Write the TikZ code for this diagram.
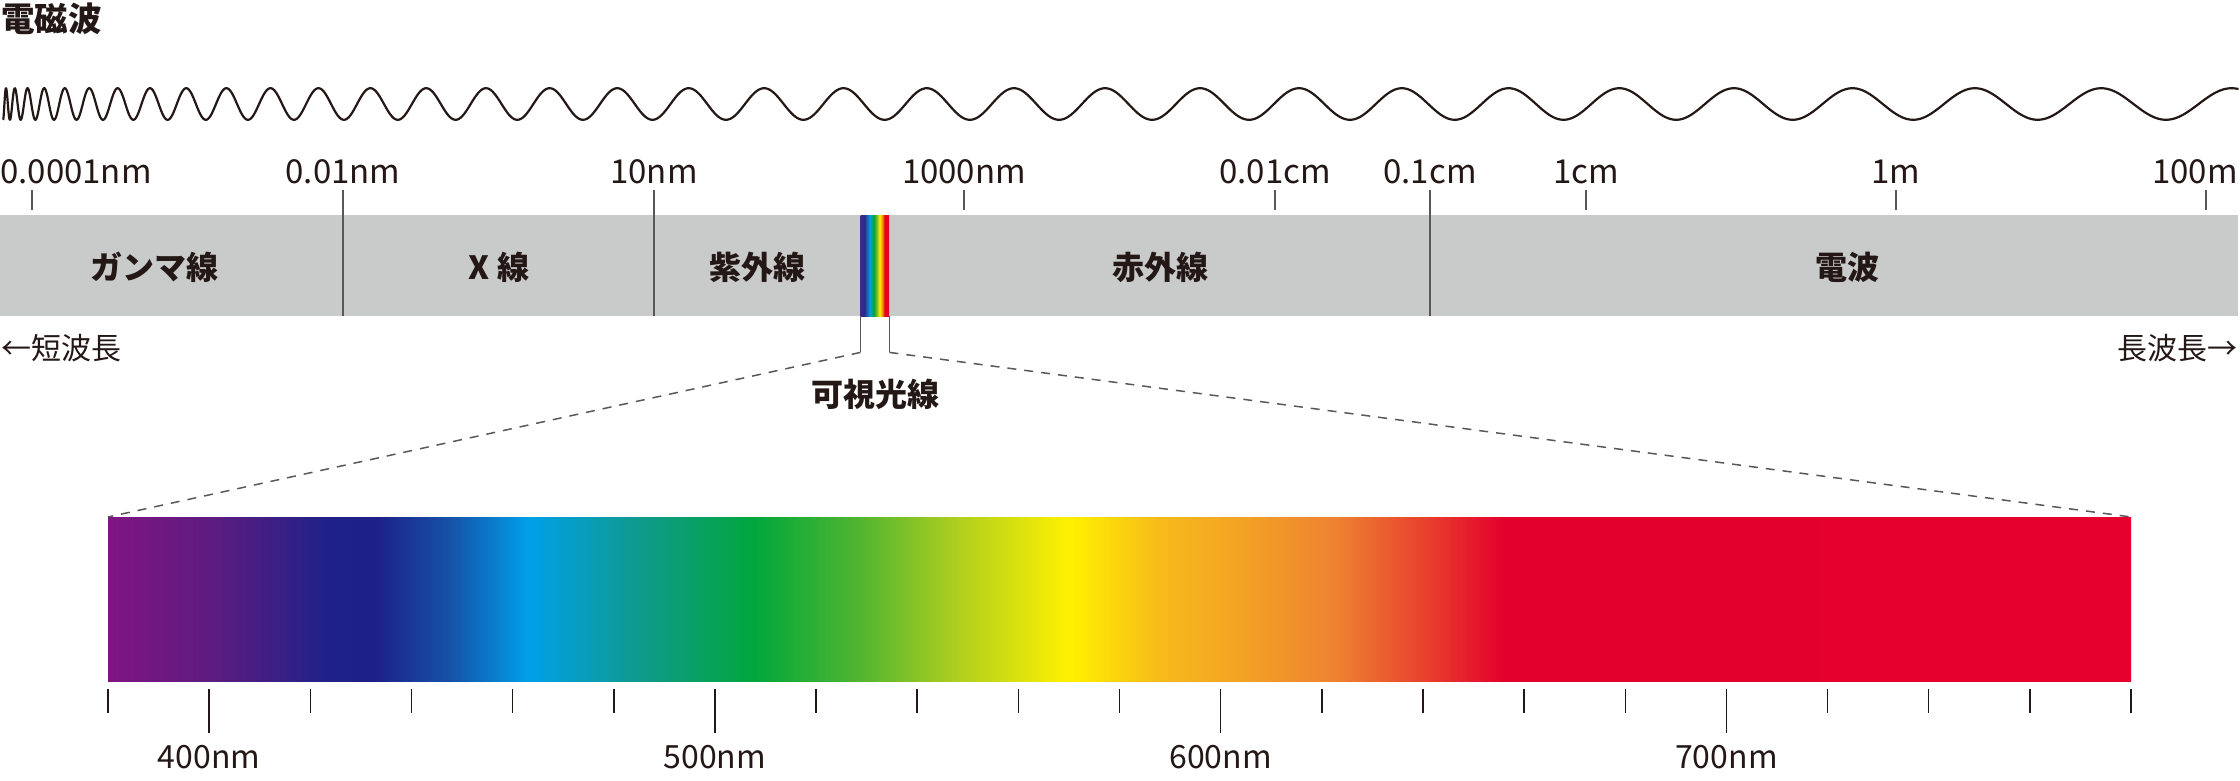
\documentclass[tikz,border=0pt]{standalone}
\usepackage{fontspec}
\setmainfont{Noto Sans CJK JP}
\definecolor{ink}{HTML}{231815}
\definecolor{barg}{HTML}{C9CACA}
\definecolor{lineg}{HTML}{595757}
% spectrum colours
\definecolor{sA}{HTML}{801482}
\definecolor{sB}{HTML}{5C1C80}
\definecolor{sC}{HTML}{1F2188}
\definecolor{sD}{HTML}{1D2088}
\definecolor{sE}{HTML}{1552A8}
\definecolor{sF}{HTML}{00A0E9}
\definecolor{sG}{HTML}{0F9A8C}
\definecolor{sH}{HTML}{00A73C}
\definecolor{sI}{HTML}{52B530}
\definecolor{sJ}{HTML}{B0CF1F}
\definecolor{sK}{HTML}{FFF100}
\definecolor{sL}{HTML}{F7BA1A}
\definecolor{sM}{HTML}{F3A324}
\definecolor{sN}{HTML}{EE8232}
\definecolor{sO}{HTML}{E9432D}
\definecolor{sP}{HTML}{E4002C}
\definecolor{sQ}{HTML}{E5002D}
% visible strip colours
\definecolor{vA}{HTML}{3E2A88}
\definecolor{vB}{HTML}{2A2A88}
\definecolor{vC}{HTML}{1E5FB0}
\definecolor{vD}{HTML}{00A0E0}
\definecolor{vE}{HTML}{00A040}
\definecolor{vF}{HTML}{8CC41E}
\definecolor{vG}{HTML}{FFF000}
\definecolor{vH}{HTML}{F39800}
\definecolor{vI}{HTML}{E60020}
\pgfdeclarehorizontalshading{spectrum}{100bp}{color(0bp)=(sA); color(25bp)=(sA);
 color(27.64bp)=(sB); color(30.4bp)=(sC); color(31.6bp)=(sD); color(33.45bp)=(sE);
 color(35.41bp)=(sF); color(38.15bp)=(sG); color(40.94bp)=(sH); color(43.59bp)=(sI);
 color(46.0bp)=(sJ); color(48.75bp)=(sK); color(51.0bp)=(sL); color(52.98bp)=(sM);
 color(55.35bp)=(sN); color(57.45bp)=(sO); color(59.5bp)=(sP); color(75bp)=(sQ);
 color(100bp)=(sQ)}
\pgfdeclarehorizontalshading{visstrip}{100bp}{color(0bp)=(vA); color(25bp)=(vA);
 color(31bp)=(vB); color(36bp)=(vC); color(41bp)=(vD); color(47.5bp)=(vE);
 color(54bp)=(vF); color(58bp)=(vG); color(62.5bp)=(vH); color(67bp)=(vI);
 color(75bp)=(vI); color(100bp)=(vI)}
\tikzset{
  boldlab/.style={font=\fontsize{32}{38}\selectfont\bfseries, text=ink, inner sep=0pt, anchor=base},
  titlelab/.style={font=\fontsize{33.5}{40}\selectfont\bfseries, text=ink, inner sep=0pt, anchor=base west},
  sidelab/.style={font=\fontsize{30}{36}\selectfont, text=ink, inner sep=0pt},
  toplab/.style={font=\fontsize{33}{40}\selectfont, text=ink, inner sep=0pt, anchor=base},
  speclab/.style={font=\fontsize{32}{38}\selectfont, text=ink, inner sep=0pt, anchor=base},
  tickline/.style={draw=lineg, line width=1.5pt},
  spectick/.style={draw=ink, line width=1.5pt},
  zoomline/.style={draw=lineg, line width=1.5pt, dash pattern=on 9pt off 8pt},
  wave/.style={draw=ink, line width=2.2pt, line join=round},
}
\begin{document}
\begin{tikzpicture}[x=1pt,y=-1pt]
\useasboundingbox (0,0) rectangle (2240,780);
% title
\node[titlelab] (title) at (1,31) {電磁波};
% wave
\draw[wave] plot[domain=1.75:47.33, samples=1500, variable=\t] ({\t*\t}, {104+15.8*sin(257.2*\t)});
% grey band
\node[fill=barg, draw=none, inner sep=0pt, minimum width=2238pt, minimum height=101pt, anchor=north west] (band) at (0,215) {};
% visible strip
\node[shading=visstrip, draw=none, inner sep=0pt, minimum width=28.5pt, minimum height=101pt, anchor=north west] (vis) at (860.5,215) {};
% scale ticks
\foreach \x in {32,964,1275,1586,1896,2206} \draw[tickline] (\x,190) -- (\x,210);
\foreach \x in {343,654,1430} \draw[tickline] (\x,190) -- (\x,316);
% scale labels
\node[toplab, anchor=base west] (l1) at (0,183) {0.0001nm};
\node[toplab] (l2) at (343,183) {0.01nm};
\node[toplab] (l3) at (654,183) {10nm};
\node[toplab] (l4) at (964,183) {1000nm};
\node[toplab] (l5) at (1275,183) {0.01cm};
\node[toplab] (l6) at (1430,183) {0.1cm};
\node[toplab] (l7) at (1586,183) {1cm};
\node[toplab] (l8) at (1896,183) {1m};
\node[toplab, anchor=base east] (l9) at (2238,183) {100m};
% band labels
\node[boldlab] (gamma) at (154,279) {ガンマ線};
\node[boldlab] (xray) at (499,279) {X 線};
\node[boldlab] (uv) at (757,279) {紫外線};
\node[boldlab] (ir) at (1160,279) {赤外線};
\node[boldlab] (radio) at (1847,279) {電波};
% side labels
\node[sidelab, anchor=base west] (short) at (1,359) {←短波長};
\node[sidelab, anchor=base east] (long) at (2238,359) {長波長→};
% visible label
\node[boldlab] (vislab) at (875,406) {可視光線};
% spectrum
\node[shading=spectrum, draw=none, inner sep=0pt, minimum width=2023pt, minimum height=164pt, anchor=north west] (spec) at (108,517) {};
% zoom connectors
\draw[tickline] (vis.south west) -- ++(0,36) coordinate (vl);
\draw[tickline] (vis.south east) -- ++(0,36) coordinate (vr);
\draw[zoomline] (vl) -- (spec.north west);
\draw[zoomline] (vr) -- (spec.north east);
% spectrum ticks
\foreach \i in {0,2,3,4,5,7,8,9,10,12,13,14,15,17,18,19,20}
  \draw[spectick] ({108+\i*101.15},689) -- ({108+\i*101.15},713);
\foreach \i/\w in {1/400,6/500,11/600,16/700}{
  \draw[spectick] ({108+\i*101.15},689) -- ({108+\i*101.15},733);
  \node[speclab] (nm\w) at ({108+\i*101.15},768) {\w nm};
}
\end{tikzpicture}
\end{document}
